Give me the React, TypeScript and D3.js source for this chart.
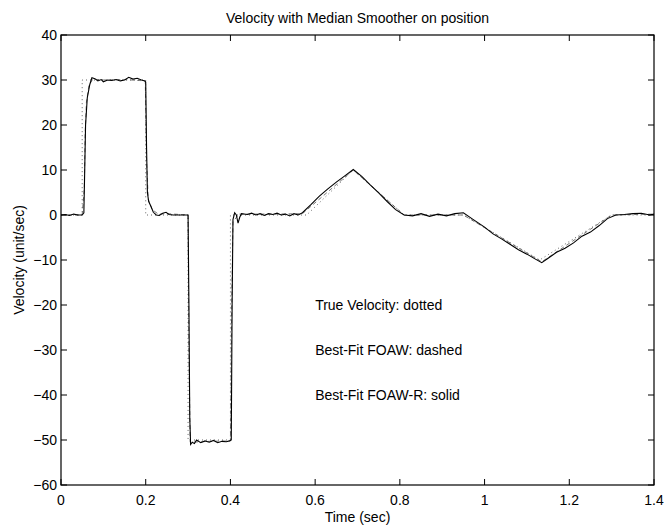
import React from "react";
import * as d3 from "d3";

// true velocity (dotted)
const trueT = [0, 0.05, 0.05, 0.2, 0.2, 0.3, 0.3, 0.4, 0.4, 0.58, 0.69, 0.81, 0.95, 1.13, 1.3, 1.4];
const trueV = [0, 0, 30, 30, 0, 0, -50, -50, 0, 0, 10, 0, 0, -10, 0, 0];

// best-fit FOAW (dashed)
const foawT = [0, 0.05, 0.055, 0.057, 0.06, 0.066, 0.075, 0.1, 0.15, 0.199, 0.202, 0.206, 0.215, 0.23, 0.25, 0.3, 0.302, 0.305, 0.35, 0.4, 0.403, 0.406, 0.42, 0.5, 0.57, 0.69, 0.81, 0.95, 1.135, 1.3, 1.4];
const foawV = [0, 0, 6, 18, 25, 28.8, 30.2, 30, 30.1, 29.8, 12, 3.5, 1.2, 0.2, 0.3, 0, -30, -50.5, -50.3, -50.2, -20, -1.5, 0.2, 0.2, 0.3, 10, 0, 0, -10.4, 0, 0.2];

// best-fit FOAW-R (solid)
const foawrT = [
  0, 0.01, 0.02, 0.03, 0.04, 0.05, 0.054, 0.056, 0.058, 0.062, 0.068, 0.073, 0.08, 0.087, 0.095, 0.1, 0.11, 0.12,
  0.13, 0.14, 0.15, 0.16, 0.17, 0.18, 0.19, 0.198, 0.2, 0.202, 0.204, 0.207, 0.212, 0.218, 0.225, 0.232, 0.24,
  0.248, 0.255, 0.265, 0.28, 0.3, 0.302, 0.304, 0.306, 0.31, 0.315, 0.32, 0.33, 0.34, 0.35, 0.36, 0.37, 0.38,
  0.39, 0.398, 0.402, 0.404, 0.406, 0.41, 0.414, 0.418, 0.422, 0.426, 0.44, 0.45, 0.46, 0.47, 0.48, 0.49, 0.5,
  0.51, 0.52, 0.53, 0.54, 0.55, 0.56, 0.57, 0.59, 0.61, 0.63, 0.65, 0.67, 0.69, 0.71, 0.73, 0.75, 0.77, 0.79,
  0.81, 0.83, 0.85, 0.87, 0.89, 0.91, 0.93, 0.95, 0.97, 1.0, 1.02, 1.04, 1.06, 1.08, 1.1, 1.12, 1.135, 1.15,
  1.17, 1.19, 1.21, 1.23, 1.25, 1.27, 1.29, 1.31, 1.33, 1.35, 1.37, 1.39, 1.4,
];
const foawrV = [
  0, 0.1, -0.1, 0.2, 0, 0, 0.5, 10, 20, 26, 29, 30.5, 30.3, 29.8, 30.1, 29.6, 30, 29.9,
  30.1, 29.8, 30, 30.6, 30.2, 30.4, 30, 29.8, 29.5, 15, 5, 3, 2, 0.6, 0, -0.1, 0.4,
  0.6, 0.1, 0, 0, 0, -20, -45, -51, -50.5, -50.8, -50, -50.6, -50.2, -50.5, -50.1, -50.6, -50.3,
  -50.4, -50.2, -50, -20, -1, 0.5, 0, -1.8, -0.5, 0.3, 0.1, 0.4, 0, 0.3, -0.1, 0.3, 0.1,
  0.4, 0, 0.2, -0.2, 0.3, 0, 0.5, 2.3, 4.2, 5.8, 7.3, 8.7, 10.1, 8.6, 6.7, 4.9, 3, 1.2,
  0, -0.2, 0.3, -0.3, 0.2, -0.2, 0.3, 0.5, -0.8, -2.7, -4.2, -5.3, -6.5, -7.7, -8.7, -9.8, -10.6, -9.6,
  -8.3, -7.4, -6.2, -4.7, -3.8, -2.4, -0.8, 0, 0.1, 0.3, 0.4, 0, 0.2,
];

const xTicks = [0, 0.2, 0.4, 0.6, 0.8, 1, 1.2, 1.4];
const yTicks = [40, 30, 20, 10, 0, -10, -20, -30, -40, -50, -60];
const notes = ["True Velocity: dotted", "Best-Fit FOAW: dashed", "Best-Fit FOAW-R: solid"];
const noteY = [-20, -30, -40];

const W = 664;
const H = 525;
const m = { left: 61, right: 10, top: 35, bottom: 40 };
const font = "'Liberation Sans', Arial, Helvetica, sans-serif";

export default function App() {
  const x = d3.scaleLinear().domain([0, 1.4]).range([m.left, W - m.right]);
  const y = d3.scaleLinear().domain([-60, 40]).range([H - m.bottom, m.top]);
  // build a path from a time array and a value array
  const path = (ts: number[], vs: number[]) =>
    d3
      .line<number>()
      .x((_, i) => x(ts[i]))
      .y((_, i) => y(vs[i]))(vs) || "";
  const tick = 6;
  return (
    <svg
      width={W}
      height={H}
      style={{ position: "absolute", left: 0, top: 0, background: "#fff" }}
      fontFamily={font}
    >
      <rect width={W} height={H} fill="#fff" />
      <text x={(x(0) + x(1.4)) / 2} y={23} textAnchor="middle" fontSize={14}>
        Velocity with Median Smoother on position
      </text>
      <defs>
        <clipPath id="plot">
          <rect x={x(0)} y={y(40)} width={x(1.4) - x(0)} height={y(-60) - y(40)} />
        </clipPath>
      </defs>
      <g clipPath="url(#plot)" fill="none">
        <path d={path(trueT, trueV)} stroke="#666" strokeWidth={1} strokeDasharray="1 3" />
        <path d={path(foawT, foawV)} stroke="#555" strokeWidth={0.8} strokeDasharray="4 3" />
        <path d={path(foawrT, foawrV)} stroke="#000" strokeWidth={1.1} />
      </g>
      <rect
        x={x(0)}
        y={y(40)}
        width={x(1.4) - x(0)}
        height={y(-60) - y(40)}
        fill="none"
        stroke="#000"
        strokeWidth={1.2}
      />
      {xTicks.map((t) => (
        <g key={"x" + t}>
          <line x1={x(t)} x2={x(t)} y1={y(-60)} y2={y(-60) - tick} stroke="#000" />
          <line x1={x(t)} x2={x(t)} y1={y(40)} y2={y(40) + tick} stroke="#000" />
          <text x={x(t)} y={y(-60) + 20} textAnchor="middle" fontSize={14}>
            {d3.format("")(t)}
          </text>
        </g>
      ))}
      {yTicks.map((v) => (
        <g key={"y" + v}>
          <line x1={x(0)} x2={x(0) + tick} y1={y(v)} y2={y(v)} stroke="#000" />
          <line x1={x(1.4)} x2={x(1.4) - tick} y1={y(v)} y2={y(v)} stroke="#000" />
          <text x={x(0) - 4} y={y(v)} dy="0.35em" textAnchor="end" fontSize={14}>
            {d3.format("")(v).replace("-", "\u2212")}
          </text>
        </g>
      ))}
      <text x={(x(0) + x(1.4)) / 2} y={H - 3} textAnchor="middle" fontSize={14}>
        Time (sec)
      </text>
      <text
        transform={`translate(24,${(y(40) + y(-60)) / 2}) rotate(-90)`}
        textAnchor="middle"
        fontSize={14}
      >
        Velocity (unit/sec)
      </text>
      {notes.map((n, i) => (
        <text key={n} x={x(0.6)} y={y(noteY[i])} dy="0.35em" fontSize={14}>
          {n}
        </text>
      ))}
    </svg>
  );
}
